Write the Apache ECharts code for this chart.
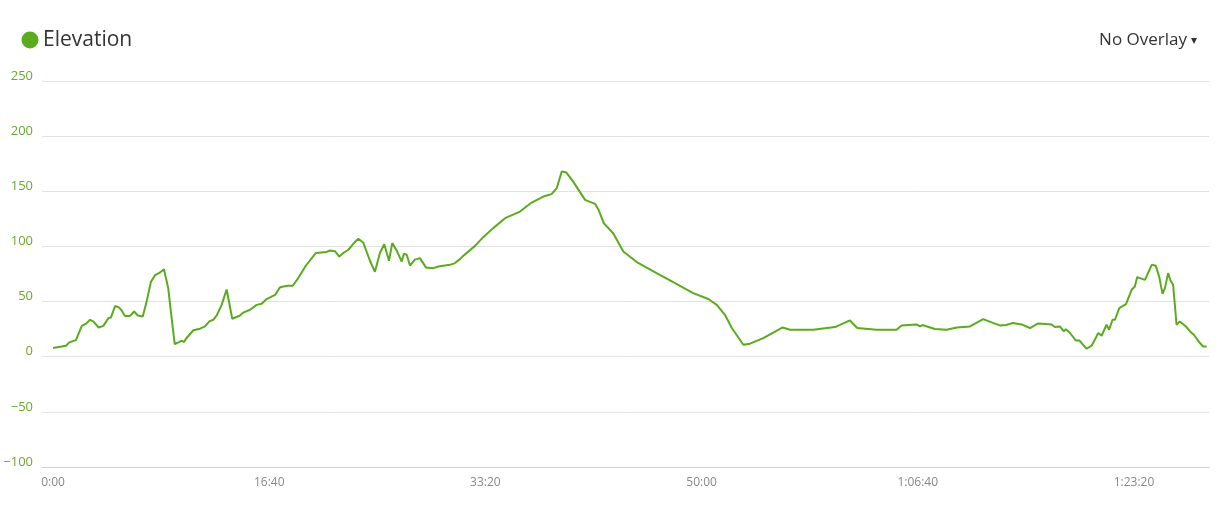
<!DOCTYPE html>
<html>
<head>
<meta charset="utf-8">
<title>Elevation</title>
<script src="https://cdn.jsdelivr.net/npm/echarts@6/dist/echarts.min.js"></script>
<style>
    html, body { margin: 0; padding: 0; background: #fff; }
    #chart { width: 1223px; height: 511px; }
</style>
</head>
<body>
<div id="chart"></div>
<script>
// elapsed time in seconds
const times = [
    0, 60, 75, 106, 133, 153, 171, 186, 211, 233, 256, 268, 287, 305, 318, 333, 356, 375, 392, 415,
    430, 453, 472, 492, 513, 533, 544, 563, 572, 583, 595, 606, 615, 624, 649, 680, 703, 723, 741, 757,
    780, 803, 829, 865, 880, 911, 942, 965, 988, 1027, 1050, 1084, 1109, 1134, 1170, 1215, 1266, 1281, 1304, 1324,
    1346, 1366, 1389, 1412, 1435, 1466, 1489, 1512, 1532, 1554, 1569, 1590, 1613, 1623, 1636, 1651, 1674, 1697, 1725, 1759,
    1782, 1836, 1859, 1882, 1898, 1952, 1990, 2036, 2091, 2160, 2214, 2268, 2306, 2330, 2353, 2373, 2406, 2461, 2507, 2522,
    2548, 2591, 2638, 2700, 2792, 2877, 2961, 3031, 3070, 3108, 3139, 3193, 3224, 3285, 3375, 3409, 3516, 3617, 3686, 3720,
    3810, 3902, 3925, 3995, 4010, 4021, 4079, 4133, 4180, 4241, 4303, 4341, 4380, 4408, 4441, 4480, 4519, 4557, 4596, 4619,
    4634, 4657, 4676, 4685, 4704, 4731, 4747, 4758, 4765, 4781, 4804, 4835, 4850, 4873, 4885, 4901, 4912, 4932, 4963, 4989,
    5004, 5015, 5051, 5082, 5101, 5117, 5132, 5143, 5158, 5169, 5181, 5197, 5212, 5243, 5259, 5277, 5305, 5320, 5336
]
// elevation in metres
const elevation = [
    8, 10, 13, 15, 28, 30, 33.5, 32, 26.5, 28, 35, 35.6, 46, 44.7, 41.7, 37, 37, 41, 37.4, 36.5,
    47.7, 68, 74, 76, 79.4, 62, 42.6, 11.5, 12.4, 13.3, 14.5, 13.3, 16.3, 18.1, 24, 25.4, 27.5, 32, 33.5, 37.4,
    47, 61, 34.4, 37.4, 40, 42.6, 47, 48, 52.3, 56, 63, 64.3, 64.3, 71.3, 82.7, 94, 95, 96.3, 95.7, 90.8,
    94.5, 97, 102.4, 107, 103.5, 87, 77, 94, 102, 87, 103, 96, 86.3, 93.3, 92.4, 82.7, 88, 89.4, 81, 80.3,
    81.8, 83.3, 84.9, 88.5, 91.5, 100.5, 108.4, 116.6, 125.6, 131.6, 139.8, 145.2, 147.4, 152.8, 167.9, 167.3, 158.8, 142.2, 138.6, 133.8,
    121, 112, 95.4, 85.8, 75.8, 66.8, 57.7, 52.3, 47, 38, 26.3, 10.9, 11.8, 16.9, 26.5, 24.5, 24.5, 26.9, 32.9, 26,
    24.5, 24.5, 28.4, 29.3, 27.5, 28.7, 25.1, 24.5, 26.5, 27.5, 34.1, 31.1, 28.4, 28.8, 30.5, 29.3, 26, 30.2, 29.6, 29.3,
    26.9, 27.5, 22.9, 25, 21.5, 14.8, 14.8, 12.4, 13, 7.2, 10, 21.5, 19, 29, 24.5, 33.5, 33.5, 44.1, 47.7, 60.7,
    63.7, 72.2, 69.7, 83.3, 82.4, 72.2, 57, 62.2, 75.8, 69.1, 65.2, 29, 32, 26.9, 22.9, 19.9, 12.4, 9.3, 9.3
]
// x axis tick positions (seconds) and y axis ticks
const timeTicks = [0, 1000, 2000, 3000, 4000, 5000]
const yMin = -100
const yMax = 250
const yStep = 50

const green = '#5aab1e'

// 秒数 -> h:mm:ss / m:ss
const fmtTime = (s) => {
    const h = Math.floor(s / 3600)
    const m = Math.floor((s % 3600) / 60)
    const sec = s % 60
    const pad = (n) => String(n).padStart(2, '0')
    return h > 0 ? h + ':' + pad(m) + ':' + pad(sec) : m + ':' + pad(sec)
}

const chart = echarts.init(document.getElementById('chart'), null, { renderer: 'canvas' })
const option = {
    animation: false,
    textStyle: { fontFamily: '"Open Sans", "DejaVu Sans", sans-serif' },
    graphic: [
        {
            type: 'circle',
            shape: { cx: 30, cy: 40, r: 8.5 },
            style: { fill: green }
        },
        {
            type: 'text',
            left: 43,
            top: 30,
            style: {
                text: 'Elevation',
                fill: '#333',
                font: '21px "Open Sans", sans-serif'
            }
        },
        {
            type: 'text',
            right: 36,
            top: 32,
            style: {
                text: 'No Overlay',
                fill: '#333',
                font: '17px "Open Sans", sans-serif'
            }
        },
        {
            type: 'text',
            right: 26,
            top: 35,
            style: {
                text: '▾',
                fill: '#333',
                font: '12px "DejaVu Sans", sans-serif'
            }
        }
    ],
    grid: {
        left: 42,
        right: 14,
        top: 81,
        bottom: 44,
        containLabel: false
    },
    xAxis: {
        type: 'value',
        min: -51,
        max: 5347,
        axisLine: { show: true, onZero: false, lineStyle: { color: '#c9d3dd', width: 1 } },
        axisTick: { show: false },
        splitLine: { show: false },
        axisLabel: {
            customValues: timeTicks,
            formatter: (v) => fmtTime(v),
            color: '#888',
            fontSize: 12,
            margin: 10
        }
    },
    yAxis: {
        type: 'value',
        min: yMin,
        max: yMax,
        interval: yStep,
        axisLine: { show: false },
        axisTick: { show: false },
        splitLine: { lineStyle: { color: '#e2e2e2', width: 1 } },
        axisLabel: {
            color: '#6aaa2a',
            fontSize: 13,
            margin: 9,
            verticalAlign: 'bottom',
            lineHeight: 10,
            formatter: (v) => v < 0 ? '\u2212' + Math.abs(v) : String(v)
        }
    },
    series: [
        {
            name: 'Elevation',
            type: 'line',
            data: times.map((t, i) => [t, elevation[i]]),
            symbol: 'none',
            smooth: false,
            lineStyle: { color: green, width: 2 },
            itemStyle: { color: green }
        }
    ]
}
chart.setOption(option)
</script>
</body>
</html>
